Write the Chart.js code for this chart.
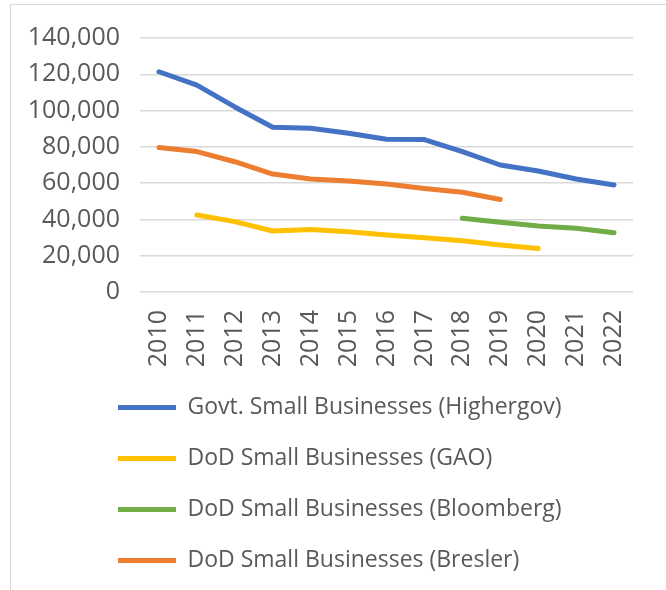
<!DOCTYPE html>
<html lang="en">
<head>
    <meta charset="UTF-8">
    <title>Small Businesses 2010-2022</title>
    <script src="https://cdn.jsdelivr.net/npm/chart.js"></script>
    <style>
        body { margin: 0; background: #fff; }
        #frame {
            position: absolute; left: 10px; top: 4px;
            width: 700px; height: 700px;
            border: 1px solid #d9d9d9;
        }
        #wrap { position: absolute; left: 0; top: 0; width: 666px; height: 590px; }
    </style>
</head>
<body>

<div id="frame"></div>
<div id="wrap"><canvas id="myChart" width="666" height="590"></canvas></div>

<script>
    const years = ['2010', '2011', '2012', '2013', '2014', '2015', '2016',
                   '2017', '2018', '2019', '2020', '2021', '2022'];

    const higherGov = [121400, 114000, 102000, 90800, 90200, 87500, 84200,
                       84000, 77400, 70000, 66700, 62300, 59000];
    const gao = [null, 42400, 38800, 33600, 34500, 33200, 31400,
                 29900, 28300, 25900, 24000, null, null];
    const bloomberg = [null, null, null, null, null, null, null,
                       null, 40600, 38400, 36400, 35100, 32700];
    const bresler = [79600, 77400, 71800, 65000, 62300, 61200, 59500,
                     57100, 55000, 51000, null, null, null];

    const yTicks = { min: 0, max: 140000, step: 20000 };

    const textColor = '#595959';
    const gridColor = '#d9d9d9';

    function series(label, data, color) {
        return {
            label: label,
            data: data,
            borderColor: color,
            backgroundColor: color,
            borderWidth: 5,
            borderCapStyle: 'round',
            borderJoinStyle: 'round',
            pointRadius: 0,
            pointHoverRadius: 0,
            pointStyle: 'line',
            tension: 0,
            spanGaps: false
        };
    }

    // legend sits under the plot, indented past the y labels
    const legendIndent = {
        id: 'legendIndent',
        beforeDraw(chart) {
            chart.legend.left = 90;
        }
    };

    const ctx = document.getElementById('myChart').getContext('2d');
    const chart = new Chart(ctx, {
        type: 'line',
        data: {
            labels: years,
            datasets: [
                series('Govt. Small Businesses (Highergov)', higherGov, '#4472c4'),
                series('DoD Small Businesses (GAO)', gao, '#ffc000'),
                series('DoD Small Businesses (Bloomberg)', bloomberg, '#70ad47'),
                series('DoD Small Businesses (Bresler)', bresler, '#ed7d31')
            ]
        },
        plugins: [legendIndent],
        options: {
            responsive: false,
            devicePixelRatio: 1,
            animation: false,
            layout: {
                padding: { left: 30, right: 33, top: 38, bottom: 8 }
            },
            plugins: {
                tooltip: { enabled: false },
                legend: {
                    position: 'bottom',
                    align: 'start',
                    labels: {
                        usePointStyle: true,
                        pointStyle: 'line',
                        pointStyleWidth: 58,
                        padding: 28,
                        color: textColor,
                        font: { family: 'Open Sans', size: 23 }
                    }
                }
            },
            scales: {
                x: {
                    offset: true,
                    grid: { display: false, drawTicks: false },
                    border: { display: false },
                    ticks: {
                        minRotation: 90,
                        maxRotation: 90,
                        padding: 18,
                        color: textColor,
                        font: { family: 'Open Sans', size: 25 }
                    },
                    afterFit: function (scale) { scale.height = 76; }
                },
                y: {
                    min: yTicks.min,
                    max: yTicks.max,
                    grid: { color: gridColor, lineWidth: 1.5, drawTicks: false },
                    border: { display: false },
                    ticks: {
                        stepSize: yTicks.step,
                        padding: 20,
                        color: textColor,
                        font: { family: 'Open Sans', size: 25 }
                    },
                    afterFit: function (scale) { scale.width = 110; }
                }
            }
        }
    });
</script>

</body>
</html>
